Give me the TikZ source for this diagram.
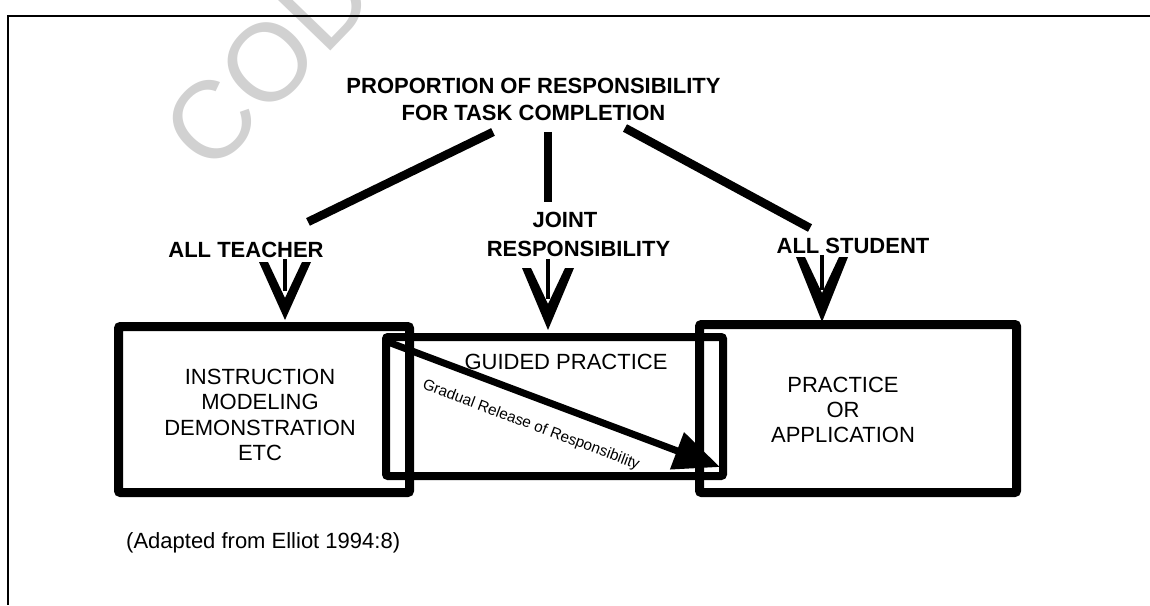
\documentclass[tikz,border=0pt]{standalone}
\usepackage{fontspec}
\setmainfont{Liberation Sans}
\usetikzlibrary{arrows.meta,calc}

\pgfdeclarearrow{
  name = VArrow,
  parameters = {\the\pgfarrowlength,\the\pgfarrowwidth},
  setup code = {
    \pgfarrowssettipend{0pt}
    \pgfarrowssetlineend{-0.5\pgfarrowlength}
    \pgfarrowssetbackend{-\pgfarrowlength}
    \pgfarrowshullpoint{0pt}{0pt}
    \pgfarrowsupperhullpoint{-\pgfarrowlength}{0.5\pgfarrowwidth}
    \pgfarrowssavethe\pgfarrowlength
    \pgfarrowssavethe\pgfarrowwidth
  },
  drawing code = {
    \pgfpathmoveto{\pgfpointorigin}
    \pgfpathlineto{\pgfpoint{-\pgfarrowlength}{0.5\pgfarrowwidth}}
    \pgfpathlineto{\pgfpoint{-\pgfarrowlength}{0.5\pgfarrowwidth-9pt}}
    \pgfpathlineto{\pgfpoint{-\pgfarrowlength+36pt}{0pt}}
    \pgfpathlineto{\pgfpoint{-\pgfarrowlength}{-0.5\pgfarrowwidth+9pt}}
    \pgfpathlineto{\pgfpoint{-\pgfarrowlength}{-0.5\pgfarrowwidth}}
    \pgfpathclose
    \pgfusepathqfill
  },
  defaults = {length=58pt, width=52pt}
}

\begin{document}
\begin{tikzpicture}[x=1pt,y=-1pt,
  hdr/.style={font=\bfseries\fontsize{22}{27}\selectfont, inner sep=0pt, align=center},
  lbl/.style={font=\bfseries\fontsize{22}{29}\selectfont, inner sep=0pt, align=center},
  boxtxt/.style={font=\fontsize{22}{25.3}\selectfont, inner sep=0pt, align=center},
  stagebox/.style={draw, rounded corners=2pt, inner sep=0pt, outer sep=0pt},
  bar/.style={line width=8.5pt},
  downarrow/.style={line width=4.5pt, -{VArrow[length=#1, width=52pt]}},
  release/.style={line width=7pt, -{Triangle[length=46pt, width=38pt]}},
  framing/.style={line width=2.4pt},
  watermark/.style={font=\fontsize{110}{110}\selectfont, text=black!18, inner sep=0pt}
]
\useasboundingbox (0,0) rectangle (1150,605);

% watermark
\begin{scope}
  \clip (0,0) rectangle (1150,605);
  \node[watermark, rotate=46] (wm) at (268,62) {COD};
\end{scope}

% frame
\draw[framing] (1150,16) -- (8,16) -- (8,605);

% title and labels
\node[hdr] (title) at (533.5,99) {PROPORTION OF RESPONSIBILITY\\FOR TASK COMPLETION};
\node[lbl] (teacher) at (246,249.5) {ALL TEACHER};
\node[lbl] (joint) at (578.5,234.5) {JOINT\rule{27pt}{0pt}\\RESPONSIBILITY};
\node[lbl] (student) at (853,246) {ALL STUDENT};

% boxes
\node[stagebox, line width=9pt, minimum width=291pt, minimum height=166pt] (instr) at (264,409.5) {};
\node[stagebox, line width=8pt, minimum width=337pt, minimum height=139pt] (guided) at (554.5,406.5) {};
\node[stagebox, line width=9pt, minimum width=317pt, minimum height=168pt] (practice) at (858,408.5) {};

\node[boxtxt] (instrtext) at (260,415) {INSTRUCTION\\MODELING\\DEMONSTRATION\\ETC};
\node[boxtxt] (guidedtext) at (566,361.5) {GUIDED PRACTICE};
\node[boxtxt] (practicetext) at (843,410) {PRACTICE\\OR\\APPLICATION};

% connectors from the title
\draw[bar] ($(title.south)+(-40.5,11.5)$) -- ($(teacher.north)+(62,-19.6)$);
\draw[bar] ($(title.south)+(14.5,11.5)$) -- ($(joint.north)+(-30.5,-10)$);
\draw[bar] ($(title.south)+(91.5,7.5)$) -- ($(student.north)+(-43,-10)$);

% down arrows
\draw[downarrow=58pt] ($(teacher.south)+(39,2)$) -- ($(instr.north)+(21,-6.5)$);
\draw[downarrow=62pt] ($(joint.south)+(-30.5,2)$) -- ($(guided.north)+(-6.5,-7)$);
\draw[downarrow=65pt] ($(student.south)+(-31,1)$) -- ($(practice.north)+(-36,-2.5)$);

% gradual release arrow
\draw[release] ($(guided.north west)+(2,5)$) -- ($(guided.south east)+(-3,-9)$)
  node[sloped, pos=0.46, below=17pt, font=\fontsize{15.3}{18}\selectfont, inner sep=0pt] (gradual) {Gradual Release of Responsibility};

% source
\node[anchor=base west, font=\fontsize{22}{26}\selectfont, inner sep=0pt] (source) at (126,548) {(Adapted from Elliot 1994:8)};
\end{tikzpicture}
\end{document}
